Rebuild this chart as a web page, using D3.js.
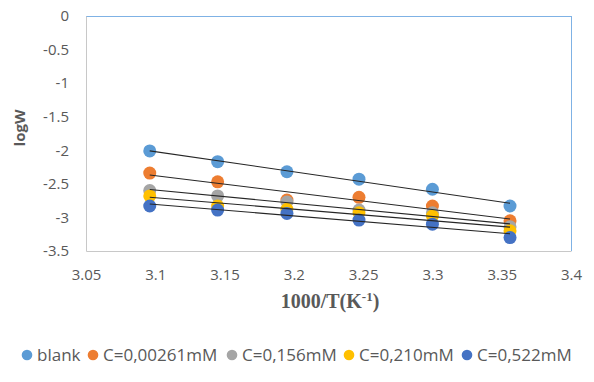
<!DOCTYPE html>
<html lang="en">
  <head>
    <meta charset="utf-8">
    <title>logW vs 1000/T</title>
    <script src="https://cdn.jsdelivr.net/npm/d3@7"></script>
    <style>
      body { margin: 0; background: #fff; }
    </style>
  </head>
  <body>
    <svg width="594" height="382" id="mainsvg"></svg>
    <script>
      // data
      const xVals = [3.096, 3.145, 3.195, 3.247, 3.300, 3.356];
      const seriesNames = ['blank', 'C=0,00261mM', 'C=0,156mM', 'C=0,210mM', 'C=0,522mM'];
      const blank = [-2.01, -2.17, -2.32, -2.43, -2.58, -2.83];
      const c00261 = [-2.34, -2.47, -2.74, -2.70, -2.83, -3.05];
      const c0156 = [-2.60, -2.68, -2.77, -2.89, -2.93, -3.14];
      const c0210 = [-2.68, -2.83, -2.88, -2.93, -2.98, -3.20];
      const c0522 = [-2.83, -2.89, -2.94, -3.04, -3.10, -3.30];
      const xTicks = [3.05, 3.1, 3.15, 3.2, 3.25, 3.3, 3.35, 3.4];
      const yTicks = [0, -0.5, -1, -1.5, -2, -2.5, -3, -3.5];
      const colors = ['#5B9BD5', '#ED7D31', '#A5A5A5', '#FFC000', '#4472C4'];

      const allSeries = [blank, c00261, c0156, c0210, c0522].map((vals, i) => ({
        name: seriesNames[i],
        color: colors[i],
        points: vals.map((v, j) => ({ x: xVals[j], y: v }))
      }));

      const svg = d3.select('#mainsvg');
      const margin = { top: 16, right: 23, bottom: 131, left: 86 };
      const innerWidth = 594 - margin.left - margin.right;
      const innerHeight = 382 - margin.top - margin.bottom;
      const tickFont = '"Open Sans", "Noto Sans", sans-serif';

      const xScale = d3.scaleLinear().domain([3.05, 3.4]).range([0, innerWidth]);
      const yScale = d3.scaleLinear().domain([-3.5, 0]).range([innerHeight, 0]);

      const g = svg.append('g')
        .attr('transform', `translate(${margin.left}, ${margin.top})`);

      // plot frame: blue top/right, grey left/bottom
      g.append('line').attr('x1', 0).attr('x2', innerWidth).attr('y1', 0.5).attr('y2', 0.5)
        .attr('stroke', '#7fb2e5').attr('stroke-width', 1);
      g.append('line').attr('x1', innerWidth + 0.5).attr('x2', innerWidth + 0.5).attr('y1', 0).attr('y2', innerHeight)
        .attr('stroke', '#7fb2e5').attr('stroke-width', 1);

      // excel style labels: plain hyphen minus
      const xAxis = d3.axisBottom(xScale).tickValues(xTicks).tickSize(0).tickPadding(18)
        .tickFormat(d => String(+d.toFixed(2)));
      const yAxis = d3.axisLeft(yScale).tickValues(yTicks).tickSize(0).tickPadding(17)
        .tickFormat(d => String(+d.toFixed(1)));

      const xg = g.append('g').attr('transform', `translate(0, ${innerHeight})`).call(xAxis);
      const yg = g.append('g').call(yAxis);
      [xg, yg].forEach(ax => {
        ax.attr('font-family', tickFont).attr('font-size', 15);
        ax.select('.domain').attr('stroke', '#c8c8c8');
        ax.selectAll('.tick text')
          .attr('fill', '#595959')
          .attr('font-size', 15)
          .attr('font-family', tickFont);
      });

      // axis titles
      svg.append('text')
        .attr('x', 330)
        .attr('y', 308)
        .attr('text-anchor', 'middle')
        .attr('font-family', '"Liberation Serif", "Times New Roman", serif')
        .attr('font-weight', 'bold')
        .attr('font-size', 20)
        .attr('fill', '#595959')
        .html('1000/T(K<tspan dy="-7" font-size="13">-1</tspan><tspan dy="7">)</tspan>');

      svg.append('text')
        .attr('transform', `translate(25, 128) rotate(-90)`)
        .attr('text-anchor', 'middle')
        .attr('font-family', tickFont)
        .attr('font-weight', 'bold')
        .attr('font-size', 15)
        .attr('fill', '#595959')
        .text('logW');

      // least squares trendlines
      const fit = pts => {
        const mx = d3.mean(pts, d => d.x), my = d3.mean(pts, d => d.y);
        const b = d3.sum(pts, d => (d.x - mx) * (d.y - my)) / d3.sum(pts, d => (d.x - mx) ** 2);
        return x => my + b * (x - mx);
      };

      allSeries.forEach(s => {
        s.points.forEach(p => {
          g.append('circle')
            .attr('cx', xScale(p.x))
            .attr('cy', yScale(p.y))
            .attr('r', 6.5)
            .attr('fill', s.color);
        });
      });

      allSeries.forEach(s => {
        const f = fit(s.points);
        const x0 = d3.min(s.points, d => d.x), x1 = d3.max(s.points, d => d.x);
        g.append('line')
          .attr('x1', xScale(x0)).attr('y1', yScale(f(x0)))
          .attr('x2', xScale(x1)).attr('y2', yScale(f(x1)))
          .attr('stroke', '#262626')
          .attr('stroke-width', 1.1);
      });

      // legend
      const legendX = [27, 93, 232, 349, 467];
      const legend = svg.selectAll('.legend')
        .data(allSeries)
        .enter().append('g')
        .attr('class', 'legend')
        .attr('transform', (d, i) => `translate(${legendX[i]}, 355)`);
      legend.append('circle').attr('r', 5.3).attr('fill', d => d.color);
      legend.append('text')
        .attr('x', 10)
        .attr('y', 6)
        .attr('font-family', tickFont)
        .attr('font-size', 17)
        .attr('fill', '#595959')
        .text(d => d.name);
    </script>
  </body>
</html>
